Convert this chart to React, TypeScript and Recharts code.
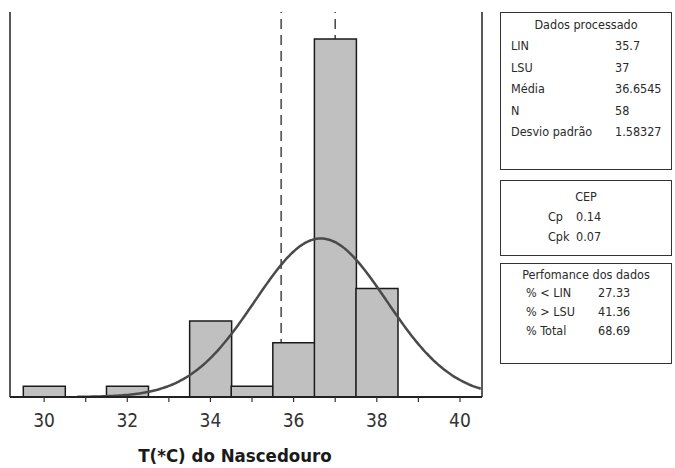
import React from "react";
import {
  ComposedChart,
  Bar,
  Line,
  XAxis,
  YAxis,
  ReferenceLine,
  Label,
} from "recharts";

// histogram bins (centre of each 1 °C class) and their counts
const binCenters = [30, 32, 34, 35, 36, 37, 38];
const binCounts = [1, 1, 7, 1, 5, 33, 10];

const xTicks = [30, 31, 32, 33, 34, 35, 36, 37, 38, 39, 40];

// process summary
const LIN = 35.7;
const LSU = 37;
const MEAN = 36.6545;
const N = 58;
const SD = 1.58327;

const dadosRows = [
  ["LIN", "35.7"],
  ["LSU", "37"],
  ["Média", "36.6545"],
  ["N", "58"],
  ["Desvio padrão", "1.58327"],
];
const cepRows = [
  ["Cp", "0.14"],
  ["Cpk", "0.07"],
];
const perfRows = [
  ["% < LIN", "27.33"],
  ["% > LSU", "41.36"],
  ["% Total", "68.69"],
];

const X_MIN = 29.18;
const X_MAX = 40.53;
const Y_MAX = 35.5;

const CHART_W = 675;
const CHART_H = 468;
const MARGIN = { top: 12, right: 193, bottom: 0, left: 10 };
const AXIS_H = 71;

const histData = binCenters.map((x, i) => ({ x, count: binCounts[i] }));

// fitted normal curve, scaled to counts per 1 °C class
const curveData: { x: number; fit: number }[] = [];
for (let x = 30.8; x <= X_MAX + 1e-9; x += 0.05) {
  const z = (x - MEAN) / SD;
  curveData.push({ x, fit: (N / (SD * Math.sqrt(2 * Math.PI))) * Math.exp(-0.5 * z * z) });
}

const boxFont = "'DejaVu Sans Condensed', 'DejaVu Sans', sans-serif";

const boxStyle: React.CSSProperties = {
  position: "absolute",
  left: 500,
  width: 172,
  border: "1.5px solid #333",
  boxSizing: "border-box",
  background: "#fff",
  fontFamily: boxFont,
  fontSize: 12.5,
  color: "#2a2a2a",
};

export default function App() {
  return (
    <div
      style={{
        position: "absolute",
        left: 0,
        top: 0,
        width: CHART_W,
        height: CHART_H,
        background: "#fff",
      }}
    >
      <ComposedChart
        width={CHART_W}
        height={CHART_H}
        data={histData}
        margin={MARGIN}
        barCategoryGap={0}
        barGap={0}
      >
        <XAxis
          dataKey="x"
          type="number"
          domain={[X_MIN, X_MAX]}
          allowDataOverflow
          ticks={xTicks}
          interval={0}
          tickFormatter={(v: number) => (v % 2 === 0 ? String(v) : "")}
          height={AXIS_H}
          axisLine={{ stroke: "#222", strokeWidth: 2 }}
          tickLine={{ stroke: "#333", strokeWidth: 1.2 }}
          tickSize={5}
          tickMargin={12}
          tick={{
            fill: "#333",
            fontSize: 19,
            fontFamily: "'Liberation Sans Narrow', 'DejaVu Sans Condensed', sans-serif",
          }}
        >
          <Label
            value="T(*C) do Nascedouro"
            position="insideBottom"
            offset={6}
            dx={-11}
            style={{
              fill: "#1a1a1a",
              fontSize: 18.5,
              fontWeight: "bold",
              fontFamily: "'DejaVu Sans Condensed', 'DejaVu Sans', sans-serif",
            }}
          />
        </XAxis>
        {/* the fitted curve gets its own axis so its dense x values don't shrink the bins */}
        <XAxis
          xAxisId="curve"
          dataKey="x"
          type="number"
          domain={[X_MIN, X_MAX]}
          allowDataOverflow
          hide
        />
        <YAxis hide type="number" domain={[0, Y_MAX]} allowDataOverflow />
        <ReferenceLine x={X_MIN} stroke="#222" strokeWidth={1.5} />
        <ReferenceLine x={X_MAX} stroke="#222" strokeWidth={1.5} />
        {/* spec limits sit behind the bars */}
        <ReferenceLine x={LIN} stroke="#444" strokeWidth={1.5} strokeDasharray="10 6" zIndex={200} />
        <ReferenceLine x={LSU} stroke="#444" strokeWidth={1.5} strokeDasharray="10 6" zIndex={200} />
        <Bar
          dataKey="count"
          fill="#c0c0c0"
          stroke="#1a1a1a"
          strokeWidth={1.5}
          isAnimationActive={false}
        />
        <Line
          xAxisId="curve"
          data={curveData}
          dataKey="fit"
          type="monotone"
          stroke="#4a4a4a"
          strokeWidth={2.5}
          dot={false}
          activeDot={false}
          isAnimationActive={false}
        />
      </ComposedChart>

      <div style={{ ...boxStyle, top: 12, height: 158, padding: "4px 0 0 10px" }}>
        <div style={{ textAlign: "center", paddingRight: 10, marginBottom: 3 }}>
          Dados processado
        </div>
        {dadosRows.map(([k, v]) => (
          <div key={k} style={{ display: "flex", height: 21.5, alignItems: "center" }}>
            <span style={{ width: 104 }}>{k}</span>
            <span>{v}</span>
          </div>
        ))}
      </div>

      <div style={{ ...boxStyle, top: 180, height: 76, padding: "8px 0 0 0" }}>
        <div style={{ textAlign: "center", marginBottom: 2 }}>CEP</div>
        {cepRows.map(([k, v]) => (
          <div key={k} style={{ display: "flex", height: 20, alignItems: "center" }}>
            <span style={{ width: 75, paddingLeft: 47, boxSizing: "border-box" }}>{k}</span>
            <span>{v}</span>
          </div>
        ))}
      </div>

      <div style={{ ...boxStyle, top: 263, height: 101, padding: "3px 0 0 0" }}>
        <div style={{ textAlign: "center", marginBottom: 1 }}>Perfomance dos dados</div>
        {perfRows.map(([k, v]) => (
          <div key={k} style={{ display: "flex", height: 19, alignItems: "center" }}>
            <span style={{ width: 97, paddingLeft: 25, boxSizing: "border-box" }}>{k}</span>
            <span>{v}</span>
          </div>
        ))}
      </div>
    </div>
  );
}
